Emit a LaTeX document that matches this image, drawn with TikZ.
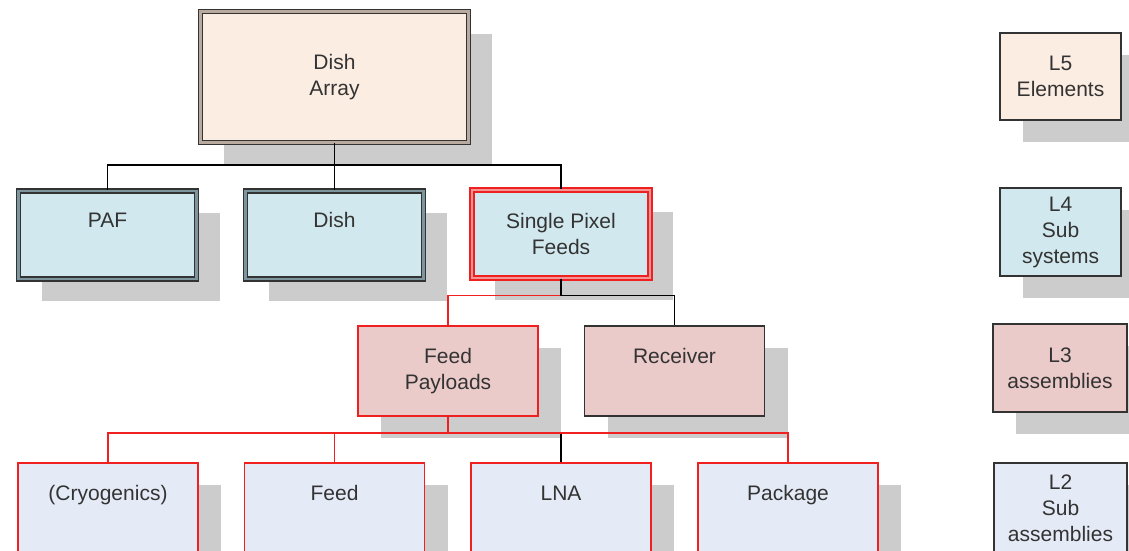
\documentclass[tikz,border=0pt]{standalone}
\usepackage{fontspec}
\setmainfont{Liberation Sans}
\usepackage{tikz}
\usetikzlibrary{shadows}
\definecolor{InkD}  {RGB}{51,  51,  51}
\definecolor{RedA}  {RGB}{240, 32,  32}
\definecolor{PeachL}{RGB}{252,237, 227}
\definecolor{BlueL} {RGB}{209,232, 238}
\definecolor{RoseL} {RGB}{235,203, 202}
\definecolor{LilacL}{RGB}{229,235, 246}
\definecolor{ShadeG}{RGB}{204,204, 204}
\definecolor{TanM}  {RGB}{185,170, 160}
\definecolor{SteelM}{RGB}{125,150, 158}
\definecolor{PinkM} {RGB}{245,150, 150}

\begin{document}
\begin{tikzpicture}[x=1pt,y=-1pt,
    box/.style={rectangle,draw=InkD,line width=1.6pt,align=center,text=InkD,
      font=\fontsize{21}{26}\selectfont,inner sep=2pt,
      minimum width=180pt,minimum height=90pt,
      drop shadow={shadow xshift=23pt,shadow yshift=-22pt,fill=ShadeG,opacity=1}},
    dbl/.style={double=#1,double distance=2.5pt,line width=1.3pt,
      minimum width=178pt,minimum height=88pt},
    oneline/.style={text height=15pt,text depth=30pt},
    wire/.style={line width=1.6pt}]
  \useasboundingbox (0,0) rectangle (1129,550);
  % tree
  \node[box,dbl=TanM,fill=PeachL,minimum width=268pt,minimum height=131pt]
    (arr) at (334.5,77) {Dish\\Array};
  \node[box,oneline,dbl=SteelM,fill=BlueL] (paf) at (107.5,235) {PAF};
  \node[box,oneline,dbl=SteelM,fill=BlueL] (dish) at (334.5,235) {Dish};
  \node[box,dbl=PinkM,draw=RedA,fill=BlueL] (spf) at (561,234) {Single Pixel\\Feeds};
  \node[box,draw=RedA,fill=RoseL] (fp) at (448,371) {Feed\\Payloads};
  \node[box,oneline,fill=RoseL] (rcv) at (674.5,371) {Receiver};
  \foreach \n/\x/\t in {cryo/108/{(Cryogenics)},feed/334.5/Feed,lna/561/LNA,pkg/788/Package}
    \node[box,oneline,draw=RedA,fill=LilacL] (\n) at (\x,508) {\t};
  % level key
  \node[box,fill=PeachL,minimum width=121pt,minimum height=87pt]
    (k5) at (1060.5,76.5) {L5\\Elements};
  \node[box,fill=BlueL,minimum width=121pt,minimum height=88pt]
    (k4) at (1060.5,232) {L4\\Sub\\systems};
  \node[box,fill=RoseL,minimum width=134pt,minimum height=88pt]
    (k3) at (1060,368) {L3\\assemblies};
  \node[box,fill=LilacL,minimum width=133pt,minimum height=90pt]
    (k2) at (1060.5,508) {L2\\Sub\\assemblies};
  % connectors
  \foreach \n in {paf,dish,spf}
    \draw[wire] (arr.south) -- ++(0,22) -| (\n.north);
  \draw[wire,RedA] (spf.south) -- ++(0,17) -| (fp.north);
  \draw[wire] (spf.south) -- ++(0,17) -| (rcv.north);
  \draw[wire] (fp.south) -- ++(0,16) -| (lna.north);
  \foreach \n in {cryo,feed,pkg}
    \draw[wire,RedA] (fp.south) -- ++(0,16) -| (\n.north);
\end{tikzpicture}
\end{document}
